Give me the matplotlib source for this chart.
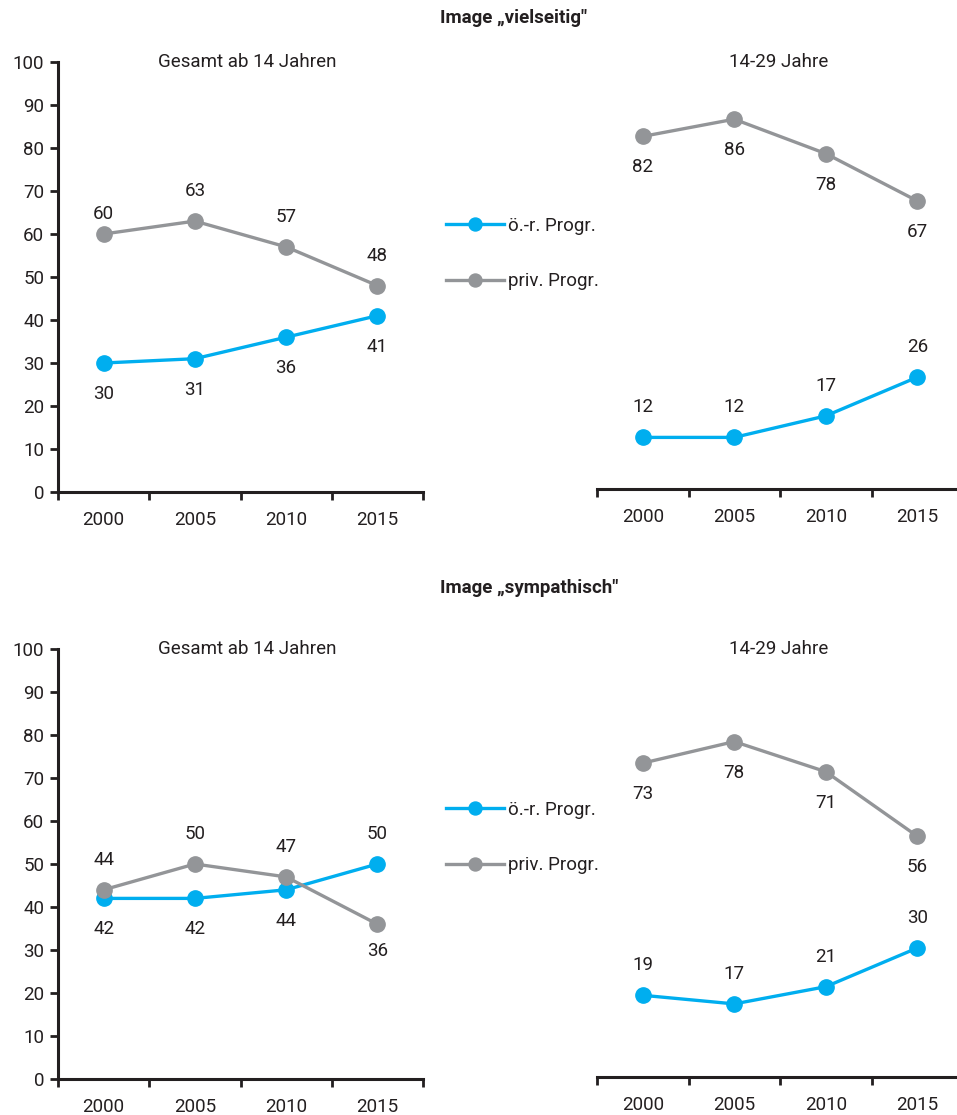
import matplotlib
matplotlib.use("Agg")
import matplotlib.pyplot as plt

plt.rcParams['font.family'] = ['Liberation Sans Narrow', 'Roboto', 'DejaVu Sans']

# --- data ---
years = ['2000', '2005', '2010', '2015']
series_names = ['ö.-r. Progr.', 'priv. Progr.']

vielseitig_gesamt_oer = [30, 31, 36, 41]
vielseitig_gesamt_priv = [60, 63, 57, 48]
vielseitig_jung_oer = [12, 12, 17, 26]
vielseitig_jung_priv = [82, 86, 78, 67]

sympathisch_gesamt_oer = [42, 42, 44, 50]
sympathisch_gesamt_priv = [44, 50, 47, 36]
sympathisch_jung_oer = [19, 17, 21, 30]
sympathisch_jung_priv = [73, 78, 71, 56]

y_ticks = list(range(0, 101, 10))

# label offset in pixels: positive above the point, negative below
place_vg_oer = [-31, -31, -31, -31]
place_vg_priv = [20, 30, 30, 30]
place_vj_oer = [30, 30, 30, 30]
place_vj_priv = [-31, -31, -31, -31]
place_sg_oer = [-31, -31, -31, 30]
place_sg_priv = [30, 30, 30, -27]
place_sj_oer = [30, 30, 30, 30]
place_sj_priv = [-31, -31, -31, -31]

BLUE = '#00AEEF'
GREY = '#939598'
DARK = '#231F20'
W, H = 957, 1115


def px_box(x0, y_top, x1, y_bottom):
    # pixel box (from top-left) -> figure fraction rect
    return [x0 / W, 1 - y_bottom / H, (x1 - x0) / W, (y_bottom - y_top) / H]


def draw_panel(ax, oer, priv, p_oer, p_priv, show_y):
    x = range(len(years))
    ax.plot(x, oer, color=BLUE, lw=2.4, marker='o', ms=11, zorder=3)
    ax.plot(x, priv, color=GREY, lw=2.4, marker='o', ms=11, zorder=4)
    for vals, offsets in ((oer, p_oer), (priv, p_priv)):
        for i, (v, off) in enumerate(zip(vals, offsets)):
            ax.annotate(str(v), (i, v), xytext=(0, off),
                        textcoords='offset pixels', ha='center', va='center',
                        fontsize=13.5, color=DARK)
    ax.set_xlim(-0.5, 3.5)
    ax.set_ylim(0, 100)
    ax.set_xticks([i - 0.5 for i in range(5)])
    ax.set_xticklabels([])
    ax.set_xticks(range(4), minor=True)
    ax.set_xticklabels(years, minor=True)
    ax.tick_params(axis='x', which='major', direction='out', length=6,
                   width=2, color=DARK)
    ax.tick_params(axis='x', which='minor', length=0, pad=14,
                   labelsize=13.5, labelcolor=DARK)
    for s in ('top', 'right'):
        ax.spines[s].set_visible(False)
    ax.spines['bottom'].set_linewidth(2.2)
    ax.spines['bottom'].set_color(DARK)
    if show_y:
        ax.set_yticks(y_ticks)
        ax.tick_params(axis='y', direction='out', length=6, width=2,
                       color=DARK, labelsize=13.5, labelcolor=DARK, pad=4)
        ax.spines['left'].set_linewidth(2.2)
        ax.spines['left'].set_color(DARK)
    else:
        ax.spines['left'].set_visible(False)
        ax.set_yticks([])
    ax.patch.set_alpha(0)


fig = plt.figure(figsize=(W / 100, H / 100), dpi=100)

ax1 = fig.add_axes(px_box(58, 62, 423, 492))
ax2 = fig.add_axes(px_box(597, 59, 963, 489))
ax3 = fig.add_axes(px_box(58, 649, 423, 1079))
ax4 = fig.add_axes(px_box(597, 647, 963, 1077))

draw_panel(ax1, vielseitig_gesamt_oer, vielseitig_gesamt_priv,
           place_vg_oer, place_vg_priv, True)
draw_panel(ax2, vielseitig_jung_oer, vielseitig_jung_priv,
           place_vj_oer, place_vj_priv, False)
draw_panel(ax3, sympathisch_gesamt_oer, sympathisch_gesamt_priv,
           place_sg_oer, place_sg_priv, True)
draw_panel(ax4, sympathisch_jung_oer, sympathisch_jung_priv,
           place_sj_oer, place_sj_priv, False)

# titles and panel captions
fig.text(440 / W, 1 - 18 / H, 'Image \u201evielseitig"', ha='left', va='center',
         fontsize=13.5, fontweight='bold', color=DARK)
fig.text(440 / W, 1 - 588 / H, 'Image \u201esympathisch"', ha='left', va='center',
         fontsize=13.5, fontweight='bold', color=DARK)
for y in (62, 649):
    fig.text(247 / W, 1 - y / H, 'Gesamt ab 14 Jahren', ha='center', va='center',
             fontsize=13.5, color=DARK)
    fig.text(779 / W, 1 - y / H, '14-29 Jahre', ha='center', va='center',
             fontsize=13.5, color=DARK)

# legends between the panels
for ax, y in ((ax1, 227), (ax3, 811)):
    handles = ax.get_lines()[:2]
    fig.legend(handles, series_names, loc='upper left',
               bbox_to_anchor=(446 / W, 1 - (y - 10) / H),
               frameon=False, fontsize=13.5, handlelength=3.1,
               handletextpad=0.2, labelspacing=2.0, borderpad=0,
               borderaxespad=0, labelcolor=DARK, markerscale=0.85)

fig.savefig('out.png', dpi=100)
